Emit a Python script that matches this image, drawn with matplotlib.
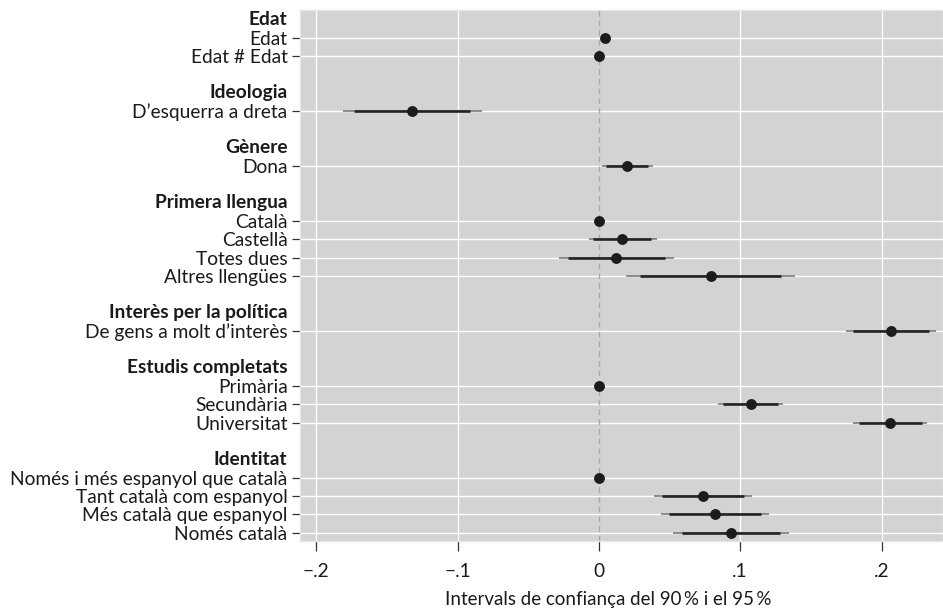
import matplotlib
matplotlib.use('Agg')
import matplotlib.pyplot as plt
import matplotlib.transforms as mtransforms

plt.rcParams['font.family'] = ['Lato', 'DejaVu Sans']

# group headers and their variables (row order, top to bottom)
groups = ['Edat', 'Ideologia', 'Gènere', 'Primera llengua',
          'Interès per la política', 'Estudis completats', 'Identitat']
group_vars = [
    ['Edat', 'Edat # Edat'],
    ['D\u2019esquerra a dreta'],
    ['Dona'],
    ['Català', 'Castellà', 'Totes dues', 'Altres llengües'],
    ['De gens a molt d\u2019interès'],
    ['Primària', 'Secundària', 'Universitat'],
    ['Només i més espanyol que català', 'Tant català com espanyol',
     'Més català que espanyol', 'Només català'],
]

# point estimates and confidence bounds, same order as the variables above
coef = [0.0042, 0.0, -0.132, 0.020, 0.0, 0.0167, 0.012, 0.079, 0.2066,
        0.0, 0.1073, 0.2063, 0.0, 0.0739, 0.0821, 0.0934]
lo95 = [0.0035, 0.0, -0.181, 0.002, 0.0, -0.007, -0.028, 0.019, 0.175,
        0.0, 0.084, 0.180, 0.0, 0.0393, 0.0438, 0.0527]
hi95 = [0.0049, 0.0, -0.083, 0.038, 0.0, 0.041, 0.053, 0.139, 0.2385,
        0.0, 0.130, 0.2324, 0.0, 0.1085, 0.1207, 0.1348]
lo90 = [0.0037, 0.0, -0.173, 0.005, 0.0, -0.004, -0.022, 0.029, 0.180,
        0.0, 0.088, 0.1844, 0.0, 0.045, 0.0496, 0.059]
hi90 = [0.0047, 0.0, -0.091, 0.035, 0.0, 0.037, 0.047, 0.129, 0.2336,
        0.0, 0.1265, 0.2284, 0.0, 0.103, 0.1148, 0.1284]

xticks = [-0.2, -0.1, 0, 0.1, 0.2]
xticklabels = ['\u2212.2', '\u2212.1', '0', '.1', '.2']

# build row positions: header row, variable rows, blank row between groups
header_rows = []
var_rows = []
var_labels = []
row = 0
for g, vs in zip(groups, group_vars):
    header_rows.append(row)
    row += 1
    for v in vs:
        var_rows.append(row)
        var_labels.append(v)
        row += 1
    row += 1

txt = '#1a1a1a'
fs = 13.8
fig = plt.figure(figsize=(9.43, 6.16), dpi=100)
ax = fig.add_axes([300 / 943, 75 / 616, 643 / 943, 531 / 616])
ax.set_facecolor('#d2d3d5')

ax.set_xlim(-0.2115, 0.2435)
ax.set_ylim(var_rows[-1] + 0.45, -0.5)

# grid
for y in var_rows:
    ax.axhline(y, color='white', lw=1.0, zorder=1)
for x in xticks:
    if x != 0:
        ax.axvline(x, color='white', lw=1.0, zorder=1)
ax.axvline(0, color='#a9a9a9', lw=1.0, ls=(0, (4, 3)), zorder=1)

# confidence intervals and points
ax.hlines(var_rows, lo95, hi95, color='#7c7c7c', lw=1.2, zorder=2)
ax.hlines(var_rows, lo90, hi90, color='#242424', lw=1.9, zorder=3)
ax.plot(coef, var_rows, 'o', color='#1c1c1c', ms=6.8, zorder=4)

ax.set_yticks(var_rows)
ax.set_yticklabels(var_labels, fontsize=fs, color=txt)
ax.tick_params(axis='y', length=6, width=0.9, color='#333333', pad=3)
ax.set_xticks(xticks)
ax.set_xticklabels(xticklabels, fontsize=fs, color=txt)
ax.tick_params(axis='x', length=7, width=0.9, color='#333333', pad=9)

for s in ax.spines.values():
    s.set_color('#e6e6e6')
    s.set_linewidth(1.0)

# bold group headers, aligned with the tick labels
trans = mtransforms.blended_transform_factory(ax.transAxes, ax.transData)
offset = mtransforms.ScaledTranslation(-9 / 72, 0, fig.dpi_scale_trans)
for g, r in zip(groups, header_rows):
    ax.text(0, r, g, transform=trans + offset, ha='right', va='center',
            fontsize=fs, fontweight='bold', color=txt)

fig.text(608 / 943, 1 - 600 / 616, 'Intervals de confiança del 90\u2009% i el 95\u2009%',
         ha='center', va='center', fontsize=fs - 0.3, color=txt)

fig.savefig('out.png', dpi=100)
